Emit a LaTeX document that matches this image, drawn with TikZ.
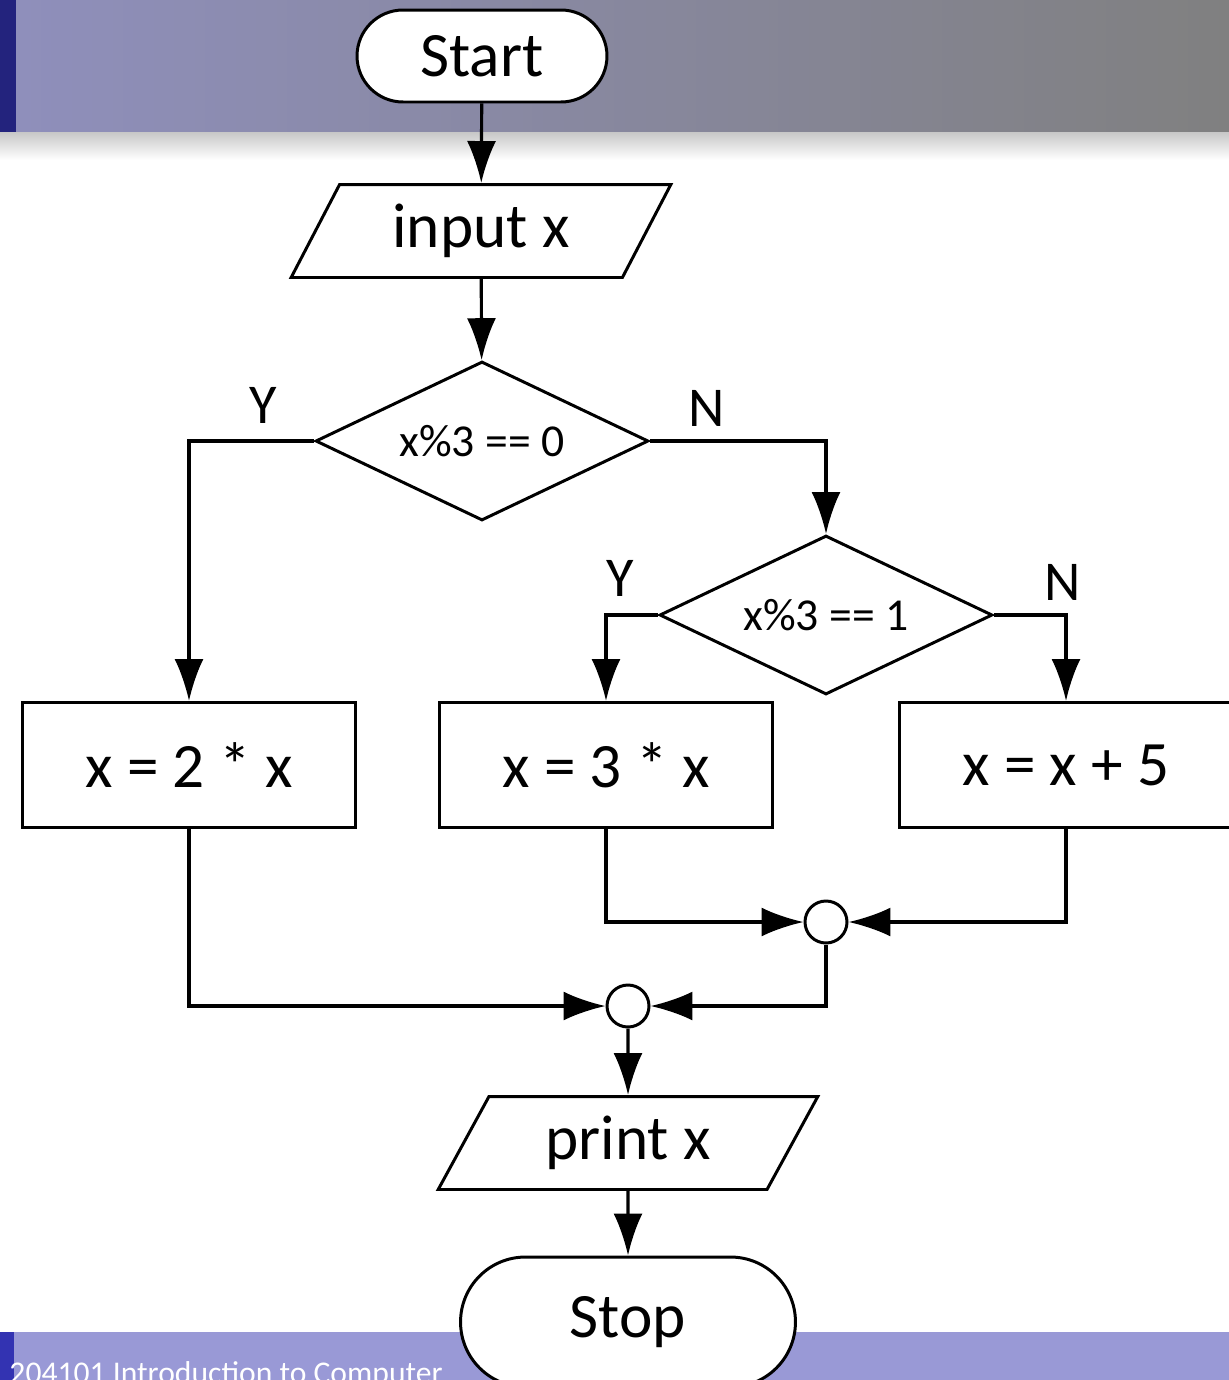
\documentclass[tikz,border=0pt]{standalone}
\usepackage{fontspec}
\setmainfont{Carlito}
\usetikzlibrary{shapes.geometric,arrows.meta,positioning}
\definecolor{headleft}{RGB}{143,143,188}
\definecolor{headright}{RGB}{128,128,128}
\definecolor{headstrip}{RGB}{35,35,125}
\definecolor{footbar}{RGB}{153,153,214}
\definecolor{footstrip}{RGB}{51,51,178}

\begin{document}
\begin{tikzpicture}[x=0.02cm,y=-0.02cm,>={Latex[length=8.4mm,width=5.8mm]},
                every node/.style={align=center, line width=1.7pt},
                term/.style={draw, fill=white, rectangle, rounded corners=9.2mm, minimum width=5cm, minimum height=1.84cm, font=\fontsize{36}{40}\selectfont},
                io/.style={draw, fill=white, trapezium, trapezium left angle=63.7, trapezium right angle=116.3, trapezium stretches=true, minimum width=7.6cm, minimum height=1.86cm, font=\fontsize{36}{40}\selectfont},
                decision/.style={draw, fill=white, diamond, shape aspect=2.1, inner sep=0pt, minimum width=6.66cm, minimum height=3.18cm, font=\fontsize{26}{30}\selectfont},
                process/.style={draw, fill=white, rectangle, minimum width=6.68cm, minimum height=2.5cm, font=\fontsize{36}{40}\selectfont},
                junction/.style={draw, fill=white, circle, minimum size=0.84cm, inner sep=0pt},
                lbl/.style={font=\fontsize{32}{36}\selectfont}
                ]
                \useasboundingbox (0,0) rectangle (1229,1380);
                % slide header and footer
                \shade[left color=headleft, right color=headright] (0,0) rectangle (1229,132);
                \fill[headstrip] (0,0) rectangle (16,132);
                \shade[top color=black!22, bottom color=white] (0,132) rectangle (1229,160);
                \fill[footbar] (0,1332) rectangle (1229,1380);
                \fill[footstrip] (0,1332) rectangle (14,1380);
                \node[anchor=base west, inner sep=0pt, text=white, font=\fontsize{18}{20}\selectfont] (footer) at (8,1383) {204101 Introduction to Computer};
                % flowchart
                \node[term] (start) at (482,56) {Start};
                \node[io] (input) at (481,231) {input x};
                \node[decision] (dec1) at (482,441) {x\%3 == 0};
                \node[decision] (dec2) at (826,615) {x\%3 == 1};
                \node[process] (twice) at (189,765) {x = 2 * x};
                \node[process] (thrice) at (606,765) {x = 3 * x};
                \node[process] (plusfive) at (1066,765) {x = x + 5};
                \node[junction] (join2) at (826,922) {};
                \node[junction] (join1) at (628,1006) {};
                \node[io] (print) at (628,1143) {print x};
                \node[term, minimum width=6.7cm, minimum height=2.6cm, rounded corners=13mm] (stop) at (628,1322) {Stop};
                \node[lbl] (y1) at (263,405) {Y};
                \node[lbl] (n1) at (707,408) {N};
                \node[lbl] (y2) at (620,578) {Y};
                \node[lbl] (n2) at (1063,582) {N};
                \draw[->,line width=1.8pt] (start) -- (input);
                \draw[->,line width=1.8pt] (input) -- (dec1);
                \draw[->,line width=1.8pt] (dec1.west) -| (twice);
                \draw[->,line width=1.8pt] (dec1.east) -| (dec2);
                \draw[->,line width=1.8pt] (dec2.west) -| (thrice);
                \draw[->,line width=1.8pt] (dec2.east) -| (plusfive);
                \draw[->,line width=1.8pt] (thrice) |- (join2);
                \draw[->,line width=1.8pt] (plusfive) |- (join2);
                \draw[->,line width=1.8pt] (join2) |- (join1);
                \draw[->,line width=1.8pt] (twice) |- (join1);
                \draw[->,line width=1.8pt] (join1) -- (print);
                \draw[->,line width=1.8pt] (print) -- (stop);
        \end{tikzpicture}
\end{document}
